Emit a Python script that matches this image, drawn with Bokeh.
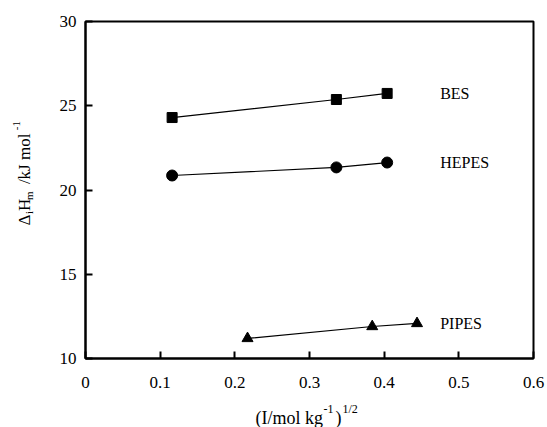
from math import pi
from bokeh.plotting import figure
from bokeh.layouts import row, column
from bokeh.models import Range1d, FixedTicker
from bokeh.core.properties import value
from bokeh.embed import file_html
from bokeh.resources import INLINE

# ---- data ----
x_bes = [0.116, 0.336, 0.404]
y_bes = [24.30, 25.37, 25.73]
x_hepes = [0.116, 0.336, 0.404]
y_hepes = [20.86, 21.34, 21.63]
x_pipes = [0.217, 0.384, 0.444]
y_pipes = [11.19, 11.90, 12.08]
series_names = ["BES", "HEPES", "PIPES"]
label_x = [0.475, 0.475, 0.475]
x_ticks = [0, 0.1, 0.2, 0.3, 0.4, 0.5, 0.6]
x_tick_labels = ["0", "0.1", "0.2", "0.3", "0.4", "0.5", "0.6"]
y_ticks = [10, 15, 20, 25, 30]
y_tick_labels = ["10", "15", "20", "25", "30"]

FONT = "Liberation Serif"

W_YLAB = 45
H_MAIN = 400
W_TOTAL = 547
H_TOTAL = 427

# ---- main plot ----
p = figure(width=W_TOTAL - W_YLAB, height=H_MAIN, output_backend="svg",
           toolbar_location=None,
           x_range=Range1d(0, 0.6), y_range=Range1d(10, 30),
           min_border_left=40, min_border_right=14, min_border_top=21,
           min_border_bottom=42)
p.background_fill_color = "white"
p.border_fill_color = "white"
p.outline_line_color = "black"
p.outline_line_width = 2
p.xgrid.visible = False
p.ygrid.visible = False

p.xaxis.ticker = FixedTicker(ticks=x_ticks)
p.yaxis.ticker = FixedTicker(ticks=y_ticks)
p.xaxis.major_label_overrides = {t: s for t, s in zip(x_ticks, x_tick_labels)}
p.yaxis.major_label_overrides = {t: s for t, s in zip(y_ticks, y_tick_labels)}
for ax in (p.xaxis, p.yaxis):
    ax.axis_line_width = 2
    ax.axis_line_color = "black"
    ax.major_tick_in = 7
    ax.major_tick_out = 0
    ax.major_tick_line_width = 2
    ax.minor_tick_line_color = None
    ax.major_label_text_font = FONT
    ax.major_label_text_font_size = "17px"
    ax.major_label_text_color = "black"
p.xaxis.major_label_standoff = 18
p.yaxis.major_label_standoff = 9

p.line(x_bes, y_bes, line_color="black", line_width=1.2)
p.scatter(x_bes, y_bes, marker="square", size=10, color="black")
p.line(x_hepes, y_hepes, line_color="black", line_width=1.2)
p.scatter(x_hepes, y_hepes, marker="circle", size=11, color="black")
p.line(x_pipes, y_pipes, line_color="black", line_width=1.2)
p.scatter(x_pipes, y_pipes, marker="triangle", size=11, color="black")

label_y = [y_bes[-1], y_hepes[-1], y_pipes[-1]]
p.text(label_x, label_y, text=series_names, text_font=value(FONT),
       text_font_size="16px", text_align="left", text_baseline="middle",
       text_color="black")


def text_panel(w, h):
    f = figure(width=w, height=h, output_backend="svg", toolbar_location=None,
               x_range=Range1d(0, w), y_range=Range1d(0, h),
               x_axis_type=None, y_axis_type=None,
               min_border=0, min_border_left=0, min_border_right=0,
               min_border_top=0, min_border_bottom=0)
    f.outline_line_color = None
    f.background_fill_color = "white"
    f.border_fill_color = "white"
    f.xgrid.visible = False
    f.ygrid.visible = False
    return f


def put(f, h, xs, ys, texts, size, angle=0.0):
    # ys given as pixel rows from the panel's top
    f.text(xs, [h - y for y in ys], text=texts, text_font=value(FONT),
           text_font_size=size, text_align="left", text_baseline="alphabetic",
           angle=angle, text_color="black")


# ---- y axis label panel: Δ_i H_m /kJ mol^-1 (rotated) ----
ylab = text_panel(W_YLAB, H_MAIN)
a = pi / 2
put(ylab, H_MAIN, [24, 24, 24], [242, 225, 193], ["\u0394", "H", "/kJ mol"], "17px", a)
put(ylab, H_MAIN, [28, 28], [228.5, 212], ["i", "m"], "11px", a)
put(ylab, H_MAIN, [16], [129], ["-1"], "11px", a)

# ---- x axis label panel: (I/mol kg^-1)^1/2 ----
H_XLAB = H_TOTAL - H_MAIN
xlab = text_panel(W_TOTAL, H_XLAB)
put(xlab, H_XLAB, [255, 335], [17, 17], ["(I/mol kg", ")"], "18px")
put(xlab, H_XLAB, [323, 342], [8, 8], ["-1", "1/2"], "12px")

layout = column(row(ylab, p, spacing=0), xlab, spacing=0)

open("out.html", "w").write(file_html(layout, INLINE))
